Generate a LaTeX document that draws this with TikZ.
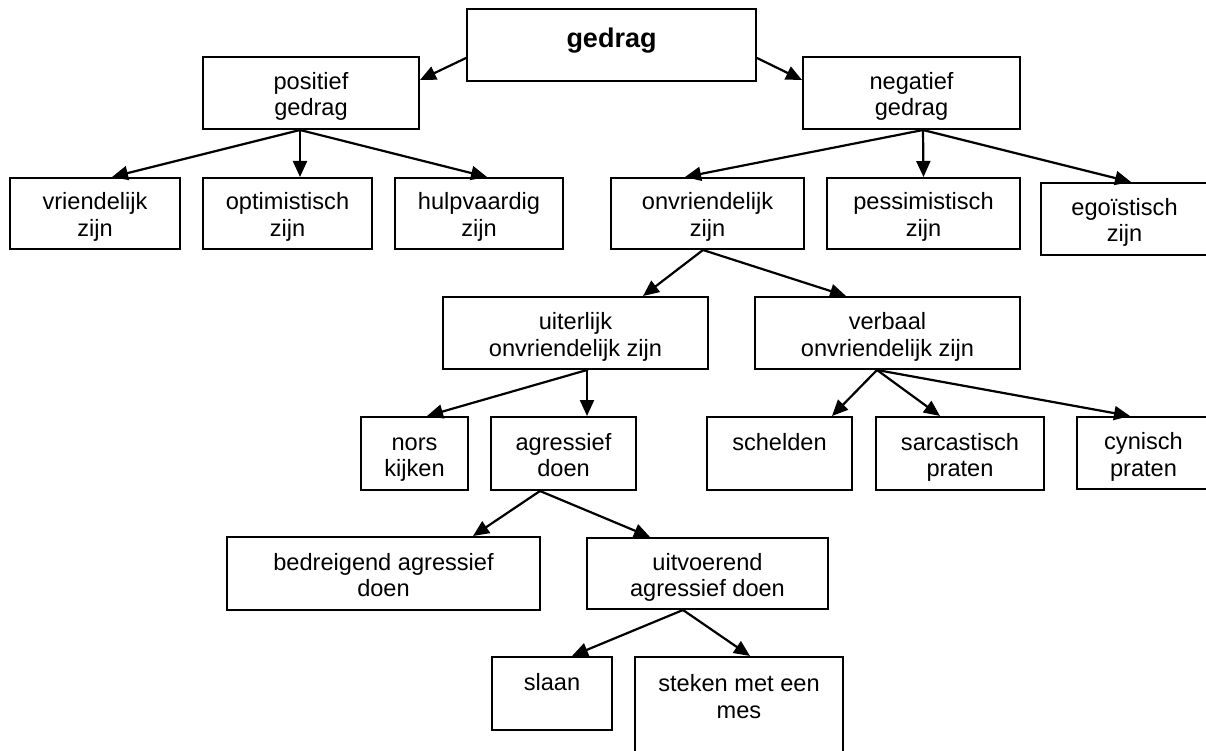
\documentclass[tikz,border=0pt]{standalone}
\usepackage{fontspec}
\setmainfont{Liberation Sans}
\usepackage{tikz}
\usetikzlibrary{arrows.meta}

\begin{document}
\begin{tikzpicture}[x=1pt,y=-1pt,line cap=rect,
		blok/.style={draw=custcol_0_0_0, line width=2.0pt, inner sep=3pt, align=center,
			font=\fontsize{23.6pt}{26.5pt}\selectfont, text height=50.5pt, text depth=4.5pt},
		enkelblok/.style={blok, text height=24pt, text depth=31pt},
		hoofdblok/.style={blok, font=\fontsize{27pt}{30pt}\selectfont\bfseries, text height=20pt, text depth=14pt},
		pijl/.style={draw=custcol_0_0_0, line width=2.2pt, -{Triangle[length=16pt,width=14pt]}}]
				\definecolor{custcol_0_0_0}{RGB}{0, 0, 0}
				\clip (0.0,0.0) rectangle (1206.0,751.0);
				% bovenste rij
				\node[hoofdblok, minimum width=289pt, minimum height=72pt] (ged) at (611.5,45.0) {gedrag};
				\node[blok, minimum width=216pt, minimum height=72pt] (pos) at (311.0,93.0) {positief\\gedrag};
				\node[blok, minimum width=217pt, minimum height=72pt] (neg) at (911.5,93.0) {negatief\\gedrag};
				\node[blok, minimum width=170pt, minimum height=71pt] (vri) at (95.0,213.5) {vriendelijk\\zijn};
				\node[blok, minimum width=169pt, minimum height=71pt] (opt) at (287.5,213.5) {optimistisch\\zijn};
				\node[blok, minimum width=168pt, minimum height=71pt] (hul) at (479.0,213.5) {hulpvaardig\\zijn};
				\node[blok, minimum width=193pt, minimum height=71pt] (onv) at (707.5,213.5) {onvriendelijk\\zijn};
				\node[blok, minimum width=193pt, minimum height=71pt] (pes) at (923.5,213.5) {pessimistisch\\zijn};
				\node[blok, minimum width=167pt, minimum height=72pt] (ego) at (1124.5,219.0) {egoïstisch\\zijn};
				% onvriendelijk
				\node[blok, minimum width=265pt, minimum height=72pt] (uit) at (575.5,333.0) {uiterlijk\\onvriendelijk zijn};
				\node[blok, minimum width=265pt, minimum height=72pt] (ver) at (887.5,333.0) {verbaal\\onvriendelijk zijn};
				\node[blok, minimum width=107pt, minimum height=73pt] (nor) at (414.5,453.5) {nors\\kijken};
				\node[blok, minimum width=145pt, minimum height=73pt] (agr) at (563.5,453.5) {agressief\\doen};
				\node[enkelblok, minimum width=145pt, minimum height=73pt] (sch) at (779.5,453.5) {schelden};
				\node[blok, minimum width=168pt, minimum height=73pt] (sar) at (960.0,453.5) {sarcastisch\\praten};
				\node[blok, minimum width=133pt, minimum height=72pt] (cyn) at (1143.5,453.0) {cynisch\\praten};
				% agressief
				\node[blok, minimum width=313pt, minimum height=73pt] (bed) at (383.5,573.5) {bedreigend agressief\\doen};
				\node[blok, minimum width=241pt, minimum height=71pt] (uitv) at (707.5,573.5) {uitvoerend\\agressief doen};
				\node[enkelblok, minimum width=120pt, minimum height=73pt] (sla) at (552.0,693.5) {slaan};
				\node[blok, minimum width=208pt, minimum height=140pt, text height=50pt, text depth=68pt] (ste) at (739.0,727.0) {steken met een\\mes};
				% pijlen
				\draw[pijl] ([yshift=-13pt]ged.west) -- ([yshift=13pt]pos.east);
				\draw[pijl] ([yshift=-13pt]ged.east) -- ([yshift=13pt]neg.west);
				\draw[pijl] ([xshift=-11pt]pos.south) -- ([xshift=17pt]vri.north);
				\draw[pijl] ([xshift=-11pt]pos.south) -- ([xshift=12.5pt]opt.north);
				\draw[pijl] ([xshift=-11pt]pos.south) -- ([xshift=8pt]hul.north);
				\draw[pijl] ([xshift=11.5pt]neg.south) -- ([xshift=-22.5pt]onv.north);
				\draw[pijl] ([xshift=11.5pt]neg.south) -- (pes.north);
				\draw[pijl] ([xshift=11.5pt]neg.south) -- ([xshift=6.5pt]ego.north);
				\draw[pijl] ([xshift=-4.5pt]onv.south) -- ([xshift=67.5pt]uit.north);
				\draw[pijl] ([xshift=-4.5pt]onv.south) -- ([xshift=-41.5pt]ver.north);
				\draw[pijl] ([xshift=11.5pt]uit.south) -- ([xshift=12.5pt]nor.north);
				\draw[pijl] ([xshift=11.5pt]uit.south) -- ([xshift=23.5pt]agr.north);
				\draw[pijl] ([xshift=-10.5pt]ver.south) -- ([xshift=52.5pt]sch.north);
				\draw[pijl] ([xshift=-10.5pt]ver.south) -- ([xshift=-20pt]sar.north);
				\draw[pijl] ([xshift=-10.5pt]ver.south) -- ([xshift=-13.5pt]cyn.north);
				\draw[pijl] ([xshift=-23.5pt]agr.south) -- ([xshift=89.5pt]bed.north);
				\draw[pijl] ([xshift=-23.5pt]agr.south) -- ([xshift=-57.5pt]uitv.north);
				\draw[pijl] ([xshift=-24.5pt]uitv.south) -- ([xshift=20pt]sla.north);
				\draw[pijl] ([xshift=-24.5pt]uitv.south) -- ([xshift=11pt]ste.north);
\end{tikzpicture}
\end{document}
